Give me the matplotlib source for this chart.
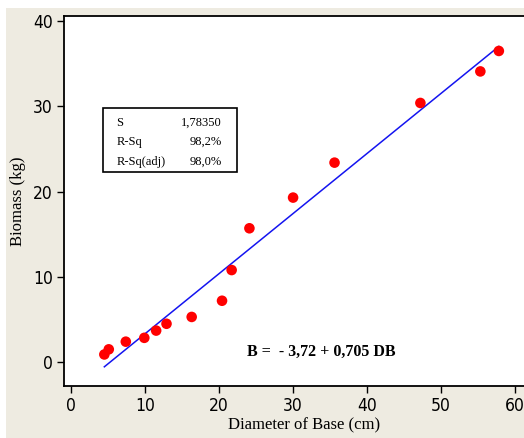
import numpy as np
import matplotlib.pyplot as plt
from matplotlib.patches import Rectangle

# data
diameter = [4.5, 5.1, 7.4, 9.9, 11.5, 12.9, 16.3, 20.4, 21.7, 24.1, 30.0, 35.6, 47.2, 55.3, 57.8]
biomass = [0.9, 1.5, 2.4, 2.85, 3.7, 4.5, 5.3, 7.2, 10.8, 15.7, 19.3, 23.4, 30.4, 34.1, 36.5]

# regression B = a + b * DB
intercept = -3.72
slope = 0.705

stat_names = ['S', 'R-Sq', 'R-Sq(adj)']
stat_values = ['1,78350', '98,2%', '98,0%']

x_ticks = [0, 10, 20, 30, 40, 50, 60]
y_ticks = [0, 10, 20, 30, 40]

bg = '#eeebe1'

fig = plt.figure(figsize=(5.24, 4.38), dpi=100)
fig.patch.set_facecolor('white')
fig.patches.append(Rectangle((6 / 524, 0), 1, 1 - 8 / 438, transform=fig.transFigure,
                             facecolor=bg, edgecolor='none', zorder=-10))

# the plot frame runs off the right edge of the picture
ax = fig.add_axes([64 / 524, 1 - 386 / 438, 480 / 524, 370 / 438])
ax.set_facecolor('white')
ax.spines['right'].set_visible(False)

# fitted line
xs = np.array(sorted(diameter))
ax.plot(xs, intercept + slope * xs, color='#1414f0', lw=1.1, zorder=2)
ax.scatter(diameter, biomass, s=58, color='#ff0000', edgecolors='none', zorder=3)

ax.set_xlim(-0.95, 63.9)
ax.set_ylim(-2.8, 40.6)
ax.set_xticks(x_ticks)
ax.set_yticks(y_ticks)
ax.tick_params(direction='out', length=5, width=1, labelsize=12.5, pad=3)
for lab in ax.get_xticklabels() + ax.get_yticklabels():
    lab.set_family('DejaVu Sans')
    lab.set_stretch('condensed')
for sp in ax.spines.values():
    sp.set_linewidth(1.3)

ax.set_xlabel('Diameter of Base (cm)', family='Liberation Serif', fontsize=12, labelpad=2)
ax.set_ylabel('Biomass (kg)', family='Liberation Serif', fontsize=12, labelpad=5)

# stats box (axes fraction, width 466 px reference)
sx = 466 / 480
ax.add_patch(Rectangle((0.084 * sx, 0.578), 0.287 * sx, 0.173, transform=ax.transAxes,
                       facecolor='white', edgecolor='black', lw=1.2, zorder=4))
rows_y = [0.711, 0.659, 0.605]
for name, val, yy in zip(stat_names, stat_values, rows_y):
    ax.text(0.112 * sx, yy, name, transform=ax.transAxes, family='Liberation Serif',
            fontsize=9, va='center', ha='left', zorder=5)
    ax.text(0.338 * sx, yy, val, transform=ax.transAxes, family='Liberation Serif',
            fontsize=9, va='center', ha='right', zorder=5)

ax.text(0.552 * sx, 0.092, 'B =  - 3,72 + 0,705 DB', transform=ax.transAxes,
        family='Liberation Serif', fontweight='bold', fontsize=11.5, ha='center', va='center')

fig.savefig('out.png', dpi=100, facecolor=fig.get_facecolor())
